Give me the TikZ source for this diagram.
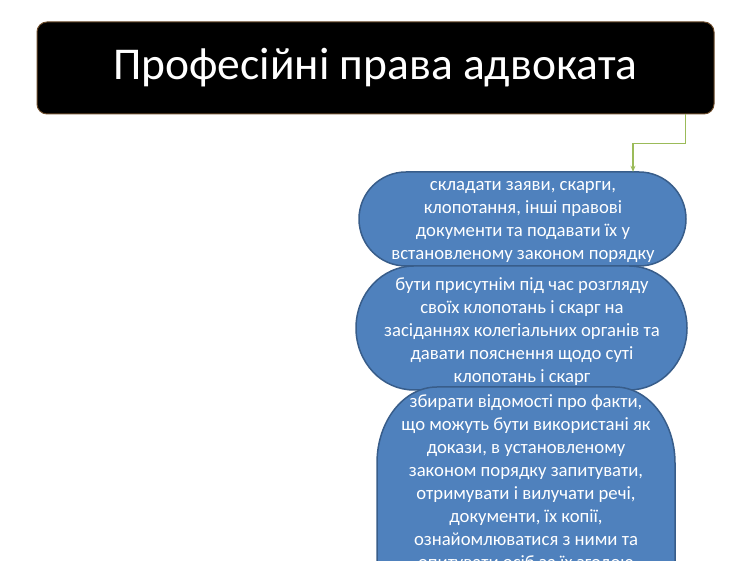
\documentclass[tikz,border=0pt]{standalone}
\usepackage{fontspec}
\setmainfont{Carlito}
\usetikzlibrary{arrows.meta}
\definecolor{boxfill}{HTML}{4F81BD}
\definecolor{boxline}{HTML}{385D8A}
\definecolor{conn}{HTML}{9BBB59}
\definecolor{titleedge}{HTML}{6B4A2A}
\tikzset{
  shapebox/.style={fill=boxfill, draw=boxline, line width=1.5pt},
  titlebox/.style={fill=black, draw=titleedge, line width=1pt, rounded corners=10pt,
    text=white, minimum width=677pt, minimum height=92pt, inner sep=0pt,
    font=\fontsize{45.5}{52}\selectfont},
  boxtext/.style={text=white, align=center, inner sep=0pt,
    font=\fontsize{18.7}{23}\selectfont},
  connector/.style={draw=conn, line width=1.3pt, -{Stealth[length=6pt,width=5pt]}}
}
\begin{document}
\begin{tikzpicture}[x=1pt,y=1pt]
\useasboundingbox (0,0) rectangle (750,561);
\clip (0,0) rectangle (750,561);
\fill[white] (0,0) rectangle (750,561);
% title
\node[titlebox] (title) at (375.5,493) {Професійні права адвоката};
% shapes
\path[shapebox] (406,389) -- (639,389) arc[start angle=90,end angle=-90,radius=47]
  -- (406,295) arc[start angle=270,end angle=90,radius=47] -- cycle;
\path[shapebox] (414,295) -- (629,295) arc[start angle=90,end angle=-90,x radius=58,y radius=62]
  -- (414,171) arc[start angle=270,end angle=90,x radius=58,y radius=62] -- cycle;
\path[shapebox] (437,174) -- (615,174) arc[start angle=90,end angle=0,x radius=60,y radius=76]
  -- (675,-150) -- (377,-150) -- (377,98) arc[start angle=180,end angle=90,x radius=60,y radius=76] -- cycle;
% texts
\node[boxtext, minimum width=327pt, minimum height=94pt] (b1) at (523,339)
  {складати заяви, скарги,\\клопотання, інші правові\\документи та подавати їх у\\встановленому законом порядку};
\node[boxtext, minimum width=331pt, minimum height=124pt] (b2) at (522,229)
  {бути присутнім під час розгляду\\своїх клопотань і скарг на\\засіданнях колегіальних органів та\\давати пояснення щодо суті\\клопотань і скарг};
\node[boxtext, anchor=north] (b3) at (526,167)
  {збирати відомості про факти,\\що можуть бути використані як\\докази, в установленому\\законом порядку запитувати,\\отримувати і вилучати речі,\\документи, їх копії,\\ознайомлюватися з ними та\\опитувати осіб за їх згодою};
% connector
\draw[connector] ([xshift=-29pt]title.south east) -- ++(0,-29) -| ([xshift=110pt,yshift=3pt]b1.north);
\end{tikzpicture}
\end{document}
